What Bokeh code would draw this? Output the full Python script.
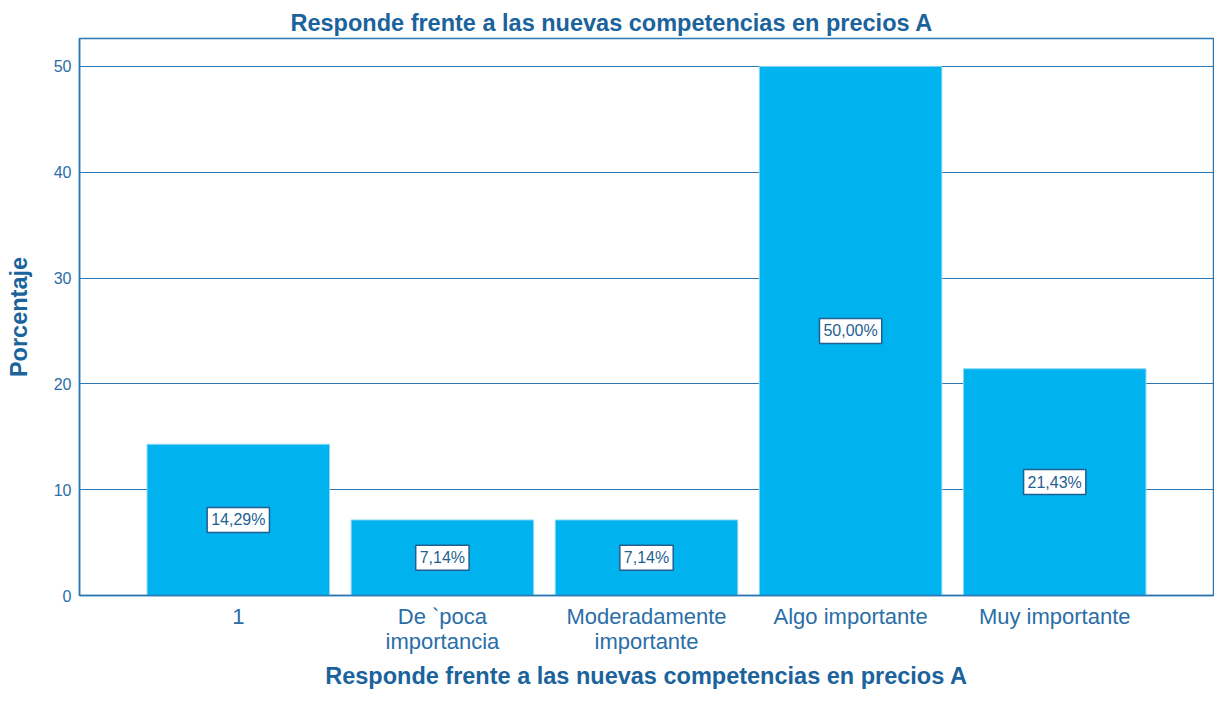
from bokeh.plotting import figure
from bokeh.models import ColumnDataSource, Label, FixedTicker, Title
from bokeh.embed import file_html
from bokeh.resources import INLINE

categories = ["1", "De `poca\nimportancia", "Moderadamente\nimportante", "Algo importante", "Muy importante"]
values = [14.29, 7.14, 7.14, 50.00, 21.43]
labels = ["14,29%", "7,14%", "7,14%", "50,00%", "21,43%"]
y_ticks = [0, 10, 20, 30, 40, 50]

TXT = "#2A6EA8"
LINE = "#2B78B4"
TITLE = "#1B639C"
BAR = "#00B2EE"
FONT = "Liberation Sans"

xs = list(range(len(categories)))
src = ColumnDataSource(dict(x=xs, top=values, lab=labels))

p = figure(width=1214, height=691, output_backend="svg", toolbar_location=None,
           x_range=(-0.778, len(categories) - 1 + 0.778), y_range=(0, 52.64),
           min_border_left=79, min_border_right=1, min_border_top=38, min_border_bottom=95)

p.vbar(x="x", top="top", bottom=0, width=0.894, source=src, fill_color=BAR,
       line_color="#8AD8F5", line_width=1)

for xi, v, lab in zip(xs, values, labels):
    p.add_layout(Label(x=xi, y=v / 2, text=lab, text_align="center", text_baseline="middle",
                       text_font=FONT, text_font_size="16px", text_color="#1F5F92",
                       background_fill_color="white", border_line_color="#1F5F92",
                       border_line_width=1.5, padding=4))

p.title = Title(text="Responde frente a las nuevas competencias en precios A", align="left",
                offset=211, text_font=FONT, text_font_size="23.5px",
                text_font_style="bold", text_color=TITLE, standoff=6)

p.xaxis.ticker = FixedTicker(ticks=xs)
p.xaxis.major_label_overrides = {i: c for i, c in enumerate(categories)}
p.xaxis.axis_label = "Responde frente a las nuevas competencias en precios A"
p.xaxis.axis_label_text_font = FONT
p.xaxis.axis_label_text_font_size = "23.5px"
p.xaxis.axis_label_text_font_style = "bold"
p.xaxis.axis_label_text_color = TITLE
p.xaxis.axis_label_text_line_height = 1.0
p.xaxis.axis_label_standoff = 6
p.xaxis.major_label_text_font = FONT
p.xaxis.major_label_text_font_size = "22px"
p.xaxis.major_label_text_line_height = 1.0
p.xaxis.major_label_text_color = TXT
p.xaxis.major_label_standoff = 8
p.xaxis.major_tick_out = 0
p.xaxis.major_tick_in = 0
p.xaxis.minor_tick_out = 0
p.xaxis.minor_tick_in = 0
p.xaxis.axis_line_color = LINE
p.xaxis.axis_line_width = 1.5

p.yaxis.ticker = FixedTicker(ticks=y_ticks)
p.yaxis.axis_label = "Porcentaje"
p.yaxis.axis_label_text_font = FONT
p.yaxis.axis_label_text_font_size = "23.5px"
p.yaxis.axis_label_text_font_style = "bold"
p.yaxis.axis_label_text_color = TITLE
p.yaxis.axis_label_standoff = 19
p.yaxis.major_label_text_font = FONT
p.yaxis.major_label_text_font_size = "16px"
p.yaxis.major_label_text_color = TXT
p.yaxis.major_label_standoff = 8
p.yaxis.major_tick_out = 0
p.yaxis.major_tick_in = 0
p.yaxis.minor_tick_out = 0
p.yaxis.minor_tick_in = 0
p.yaxis.axis_line_color = LINE
p.yaxis.axis_line_width = 1.5

p.xgrid.grid_line_color = None
p.ygrid.grid_line_color = LINE
p.ygrid.grid_line_width = 1
p.ygrid.ticker = FixedTicker(ticks=[10, 20, 30, 40, 50])

p.outline_line_color = LINE
p.outline_line_width = 1.5
p.background_fill_color = "white"
p.border_fill_color = "white"

open("out.html", "w").write(file_html(p, INLINE))
